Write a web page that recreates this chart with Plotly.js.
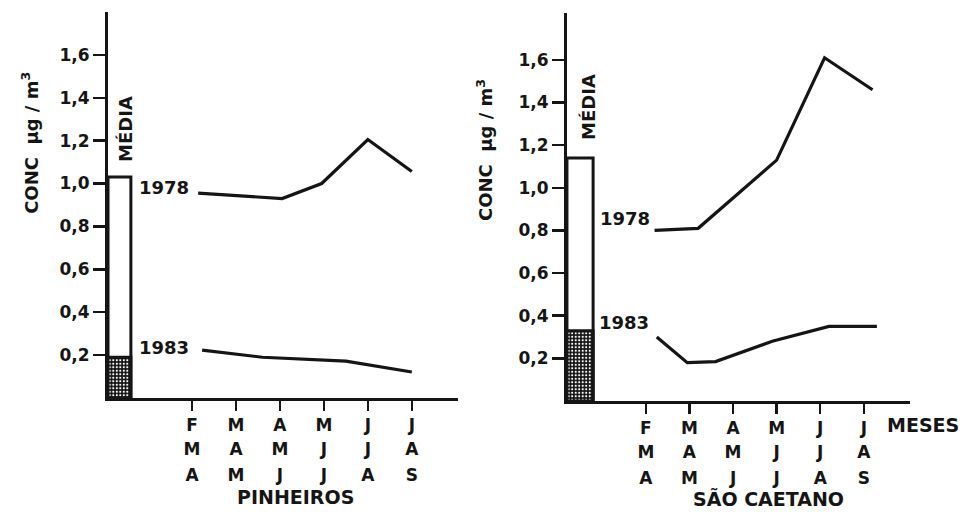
<!DOCTYPE html>
<html>
<head>
<meta charset="utf-8">
<script src="https://cdn.plot.ly/plotly-3.0.1.min.js"></script>
<style>
  html, body { margin: 0; padding: 0; background: #fff; }
  #chart { width: 968px; height: 512px; }
</style>
</head>
<body>
<div id="chart"></div>
<script>
// Three-month periods (position = middle month number); each label is three stacked initials
const periodPos = [3, 4, 5, 6, 7, 8];
const periodRow1 = ['F', 'M', 'A', 'M', 'J', 'J'];
const periodRow2 = ['M', 'A', 'M', 'J', 'J', 'A'];
const periodRow3 = ['A', 'M', 'J', 'J', 'A', 'S'];
const concTicks = [0.2, 0.4, 0.6, 0.8, 1.0, 1.2, 1.4, 1.6];

// Pinheiros station
const pinheiros1978X = [3.14, 5.05, 5.95, 7.0, 8.0];
const pinheiros1978Y = [0.955, 0.93, 1.0, 1.205, 1.056];
const pinheiros1983X = [3.23, 4.6, 6.5, 8.0];
const pinheiros1983Y = [0.223, 0.19, 0.172, 0.121];
const pinheirosMean1978 = 1.03;
const pinheirosMean1983 = 0.19;

// São Caetano station
const caetano1978X = [3.2, 4.2, 5.1, 6.0, 7.1, 8.2];
const caetano1978Y = [0.80, 0.81, 0.97, 1.13, 1.61, 1.46];
const caetano1983X = [3.25, 3.95, 4.6, 5.9, 7.2, 8.3];
const caetano1983Y = [0.30, 0.18, 0.185, 0.28, 0.35, 0.35];
const caetanoMean1978 = 1.14;
const caetanoMean1983 = 0.33;

const FONT = 'DejaVu Sans, Liberation Sans, sans-serif';
const INK = '#151515';
const lineStyle = {color: INK, width: 3.2};
const stipple = {shape: '.', size: 3.5, solidity: 0.3, fgcolor: '#fff', bgcolor: '#111', fillmode: 'replace'};

function meanBars(xa, ya, center, width, m78, m83) {
  return [
    {type: 'bar', x: [center], y: [m78], width: [width], xaxis: xa, yaxis: ya,
     marker: {color: '#fff', line: {color: INK, width: 3}}, hoverinfo: 'skip'},
    {type: 'bar', x: [center], y: [m83], width: [width], xaxis: xa, yaxis: ya,
     marker: {color: '#111', pattern: stipple, line: {color: INK, width: 3}}, hoverinfo: 'skip'}
  ];
}

// empty traces so that the label-row axes get drawn
function rowHolder(xa, ya) {
  return {type: 'scatter', mode: 'lines', x: [], y: [], xaxis: xa, yaxis: ya, hoverinfo: 'skip'};
}

const traces = [
  ...meanBars('x', 'y', 1.35, 0.52, pinheirosMean1978, pinheirosMean1983),
  ...meanBars('x2', 'y2', 1.49, 0.6, caetanoMean1978, caetanoMean1983),
  {type: 'scatter', mode: 'lines', x: pinheiros1978X, y: pinheiros1978Y, xaxis: 'x', yaxis: 'y', line: lineStyle},
  {type: 'scatter', mode: 'lines', x: pinheiros1983X, y: pinheiros1983Y, xaxis: 'x', yaxis: 'y', line: lineStyle},
  {type: 'scatter', mode: 'lines', x: caetano1978X, y: caetano1978Y, xaxis: 'x2', yaxis: 'y2', line: lineStyle},
  {type: 'scatter', mode: 'lines', x: caetano1983X, y: caetano1983Y, xaxis: 'x2', yaxis: 'y2', line: lineStyle},
  rowHolder('x3', 'y'), rowHolder('x4', 'y'), rowHolder('x5', 'y2'), rowHolder('x6', 'y2')
];

const tickFont = {family: FONT, size: 17, color: INK, weight: 'bold'};

function xAxis(domain, range, anchor, rowText) {
  return {
    domain: domain, range: range, anchor: anchor, showgrid: false, zeroline: false,
    showline: true, linecolor: INK, linewidth: 3,
    ticks: 'outside', ticklen: 10, tickwidth: 2.5, tickcolor: INK,
    tickmode: 'array', tickvals: periodPos, ticktext: rowText,
    tickfont: tickFont, fixedrange: true
  };
}
// extra rows of the stacked period labels, sharing the main axis scale
function rowAxis(over, range, anchor, rowText, standoff) {
  return {
    overlaying: over, range: range, anchor: anchor, side: 'bottom',
    showgrid: false, zeroline: false, showline: false,
    ticks: 'outside', ticklen: 10, tickcolor: 'rgba(0,0,0,0)',
    tickmode: 'array', tickvals: periodPos, ticktext: rowText,
    ticklabelstandoff: standoff, tickfont: tickFont, fixedrange: true
  };
}
function yAxis(domain, range, anchor) {
  return {
    domain: domain, range: range, anchor: anchor, showgrid: false, zeroline: false,
    showline: true, linecolor: INK, linewidth: 3,
    ticks: 'outside', ticklen: 12, tickwidth: 2.5, tickcolor: INK,
    tickmode: 'array', tickvals: concTicks, tickformat: '.1f',
    tickfont: tickFont, fixedrange: true
  };
}

function note(text, x, y, size, opts) {
  return Object.assign({
    text: text, x: x, y: y, xref: 'paper', yref: 'paper', showarrow: false,
    xanchor: 'center', yanchor: 'middle',
    font: {family: FONT, size: size, color: INK, weight: 'bold'}
  }, opts || {});
}

const leftRange = [1.09, 9.05];
const rightRange = [1.19, 9.06];

const layout = {
  width: 968, height: 512,
  margin: {l: 0, r: 0, t: 0, b: 0},
  paper_bgcolor: '#fff', plot_bgcolor: 'rgba(0,0,0,0)',
  showlegend: false, barmode: 'overlay', separators: ',.',
  xaxis: xAxis([0.1116, 0.4731], leftRange, 'y', periodRow1),
  xaxis3: rowAxis('x', leftRange, 'y', periodRow2, 26),
  xaxis4: rowAxis('x', leftRange, 'y', periodRow3, 52),
  yaxis: yAxis([0.2227, 0.9766], [0, 1.8], 'x'),
  xaxis2: xAxis([0.5857, 0.9401], rightRange, 'y2', periodRow1),
  xaxis5: rowAxis('x2', rightRange, 'y2', periodRow2, 26),
  xaxis6: rowAxis('x2', rightRange, 'y2', periodRow3, 52),
  yaxis2: yAxis([0.2168, 0.9746], [0, 1.82], 'x2'),
  annotations: [
    note('CONC  µg / m<sup>3</sup>', 0.031, 0.721, 18, {textangle: -90}),
    note('CONC  µg / m<sup>3</sup>', 0.501, 0.707, 18, {textangle: -90}),
    note('MÉDIA', 0.129, 0.748, 18, {textangle: -90}),
    note('MÉDIA', 0.6074, 0.791, 18, {textangle: -90}),
    note('1978', 0.1415, 0.633, 18, {xanchor: 'left'}),
    note('1983', 0.1415, 0.322, 18, {xanchor: 'left'}),
    note('1978', 0.6178, 0.574, 18, {xanchor: 'left'}),
    note('1983', 0.6167, 0.371, 18, {xanchor: 'left'}),
    note('PINHEIROS', 0.3048, 0.0293, 19),
    note('SÃO CAETANO', 0.7934, 0.0255, 19),
    note('MESES', 0.9143, 0.17, 19, {xanchor: 'left'})
  ]
};

Plotly.newPlot('chart', traces, layout, {displayModeBar: false, staticPlot: true});
</script>
</body>
</html>
